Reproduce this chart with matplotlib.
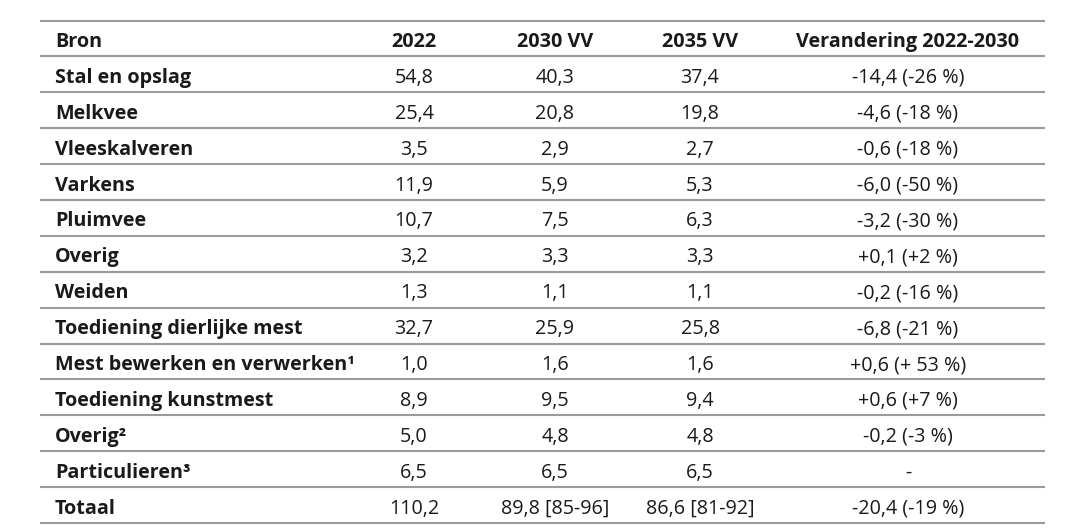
import matplotlib
matplotlib.use("Agg")
import matplotlib.pyplot as plt

# table content
headers = ["Bron", "2022", "2030 VV", "2035 VV", "Verandering 2022-2030"]
sources = ["Stal en opslag", "Melkvee", "Vleeskalveren", "Varkens", "Pluimvee",
           "Overig", "Weiden", "Toediening dierlijke mest",
           "Mest bewerken en verwerken\u00b9", "Toediening kunstmest",
           "Overig\u00b2", "Particulieren\u00b3", "Totaal"]
v2022 = [54.8, 25.4, 3.5, 11.9, 10.7, 3.2, 1.3, 32.7, 1.0, 8.9, 5.0, 6.5, 110.2]
v2030 = [40.3, 20.8, 2.9, 5.9, 7.5, 3.3, 1.1, 25.9, 1.6, 9.5, 4.8, 6.5, 89.8]
v2035 = [37.4, 19.8, 2.7, 5.3, 6.3, 3.3, 1.1, 25.8, 1.6, 9.4, 4.8, 6.5, 86.6]
range2030 = {12: "[85-96]"}
range2035 = {12: "[81-92]"}
change = ["-14,4 (-26 %)", "-4,6 (-18 %)", "-0,6 (-18 %)", "-6,0 (-50 %)",
          "-3,2 (-30 %)", "+0,1 (+2 %)", "-0,2 (-16 %)", "-6,8 (-21 %)",
          "+0,6 (+ 53 %)", "+0,6 (+7 %)", "-0,2 (-3 %)", "-", "-20,4 (-19 %)"]


def fmt(v):
    return f"{v:.1f}".replace(".", ",")


plt.rcParams['font.family'] = ['Open Sans', 'DejaVu Sans']

fig = plt.figure(figsize=(10.7, 5.28), dpi=100)
ax = fig.add_axes([0, 0, 1, 1])
ax.set_xlim(0, 1070)
ax.set_ylim(528, 0)
ax.axis('off')

x_left, x_right = 40, 1045
col_x = [55, 414, 555, 700, 908]
top = 20.5
row_h = 35.9
fs = 14.2
txt_col = "#1a1a1a"
line_col = "#9a9a9a"

# header
ax.hlines(top, x_left, x_right, color=line_col, lw=1.5)
hy = top + row_h / 2 + 4
for i, h in enumerate(headers):
    ax.text(col_x[i], hy, h, ha='left' if i == 0 else 'center', va='center',
            fontsize=fs, fontweight='bold', color=txt_col)
ax.hlines(top + row_h, x_left, x_right, color=line_col, lw=1.5)

for r, src in enumerate(sources):
    y0 = top + row_h * (r + 1)
    yc = y0 + row_h / 2 + 3.5
    ax.text(col_x[0], yc, src, ha='left', va='center', fontsize=fs,
            fontweight='bold', color=txt_col)
    cells = [fmt(v2022[r]),
             fmt(v2030[r]) + (" " + range2030[r] if r in range2030 else ""),
             fmt(v2035[r]) + (" " + range2035[r] if r in range2035 else ""),
             change[r]]
    for c, t in enumerate(cells):
        ax.text(col_x[c + 1], yc, t, ha='center', va='center', fontsize=fs,
                color=txt_col)
    ax.hlines(y0 + row_h, x_left, x_right, color=line_col, lw=1.5)

fig.savefig("out.png", dpi=100)
